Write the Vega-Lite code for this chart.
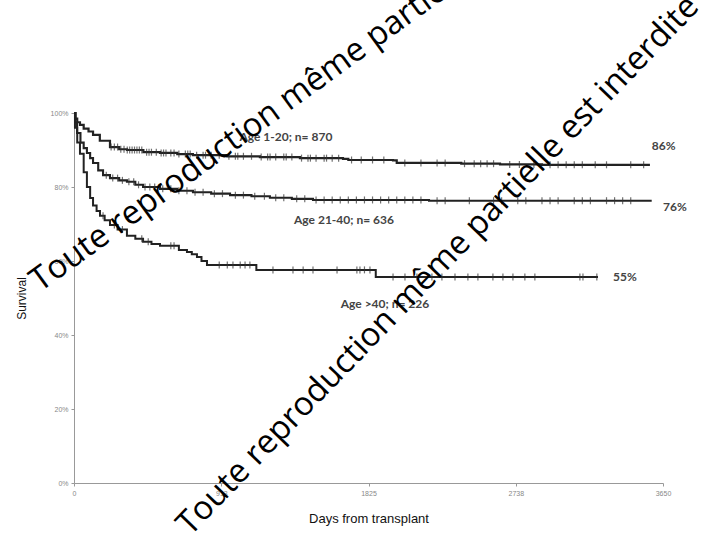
{
  "$schema": "https://vega.github.io/schema/vega-lite/v6.json",
  "width": 589,
  "height": 370,
  "autosize": "none",
  "padding": {"left": 74, "top": 113, "right": 38, "bottom": 52},
  "background": "white",
  "config": {"view": {"stroke": null}},
  "datasets": {
    "curves": [
      {"g": "1-20", "day": 0, "s": 100}, {"g": "1-20", "day": 10, "s": 98.5}, {"g": "1-20", "day": 20, "s": 97.5}, {"g": "1-20", "day": 37, "s": 96.8}, {"g": "1-20", "day": 60, "s": 95.8}, {"g": "1-20", "day": 90, "s": 95.0}, {"g": "1-20", "day": 118, "s": 94.1}, {"g": "1-20", "day": 160, "s": 92.5}, {"g": "1-20", "day": 223, "s": 90.8}, {"g": "1-20", "day": 280, "s": 90.2}, {"g": "1-20", "day": 329, "s": 90.0}, {"g": "1-20", "day": 430, "s": 89.4}, {"g": "1-20", "day": 533, "s": 89.2}, {"g": "1-20", "day": 640, "s": 88.9}, {"g": "1-20", "day": 737, "s": 88.6}, {"g": "1-20", "day": 950, "s": 88.3}, {"g": "1-20", "day": 1152, "s": 88.1}, {"g": "1-20", "day": 1400, "s": 87.8}, {"g": "1-20", "day": 1667, "s": 87.6}, {"g": "1-20", "day": 1700, "s": 87.3}, {"g": "1-20", "day": 1977, "s": 87.2}, {"g": "1-20", "day": 2000, "s": 86.5}, {"g": "1-20", "day": 2400, "s": 86.3}, {"g": "1-20", "day": 2640, "s": 86.1}, {"g": "1-20", "day": 2900, "s": 86.0}, {"g": "1-20", "day": 3569, "s": 86.0},
      {"g": "21-40", "day": 0, "s": 100}, {"g": "21-40", "day": 8, "s": 97.5}, {"g": "21-40", "day": 19, "s": 94.6}, {"g": "21-40", "day": 40, "s": 92.0}, {"g": "21-40", "day": 60, "s": 90.5}, {"g": "21-40", "day": 80, "s": 89.2}, {"g": "21-40", "day": 100, "s": 87.8}, {"g": "21-40", "day": 118, "s": 86.5}, {"g": "21-40", "day": 150, "s": 84.5}, {"g": "21-40", "day": 180, "s": 83.2}, {"g": "21-40", "day": 223, "s": 82.4}, {"g": "21-40", "day": 280, "s": 81.8}, {"g": "21-40", "day": 328, "s": 81.4}, {"g": "21-40", "day": 380, "s": 80.6}, {"g": "21-40", "day": 428, "s": 80.0}, {"g": "21-40", "day": 533, "s": 79.5}, {"g": "21-40", "day": 640, "s": 79.0}, {"g": "21-40", "day": 737, "s": 78.6}, {"g": "21-40", "day": 850, "s": 78.2}, {"g": "21-40", "day": 967, "s": 77.8}, {"g": "21-40", "day": 1100, "s": 77.5}, {"g": "21-40", "day": 1214, "s": 77.1}, {"g": "21-40", "day": 1350, "s": 76.8}, {"g": "21-40", "day": 1481, "s": 76.5}, {"g": "21-40", "day": 2200, "s": 76.3}, {"g": "21-40", "day": 3580, "s": 76.3},
      {"g": ">40", "day": 0, "s": 100}, {"g": ">40", "day": 6, "s": 96}, {"g": ">40", "day": 20, "s": 92}, {"g": ">40", "day": 37, "s": 89}, {"g": ">40", "day": 60, "s": 84}, {"g": ">40", "day": 80, "s": 80}, {"g": ">40", "day": 100, "s": 77}, {"g": ">40", "day": 118, "s": 75}, {"g": ">40", "day": 140, "s": 73.5}, {"g": ">40", "day": 161, "s": 72.2}, {"g": ">40", "day": 190, "s": 71.0}, {"g": ">40", "day": 223, "s": 69.7}, {"g": ">40", "day": 270, "s": 68.5}, {"g": ">40", "day": 328, "s": 66.8}, {"g": ">40", "day": 380, "s": 66.0}, {"g": ">40", "day": 428, "s": 65.2}, {"g": ">40", "day": 480, "s": 64.6}, {"g": ">40", "day": 533, "s": 64.1}, {"g": ">40", "day": 650, "s": 63.0}, {"g": ">40", "day": 700, "s": 62.4}, {"g": ">40", "day": 730, "s": 61.8}, {"g": ">40", "day": 762, "s": 61.1}, {"g": ">40", "day": 790, "s": 60.0}, {"g": ">40", "day": 824, "s": 58.9}, {"g": ">40", "day": 1130, "s": 57.6}, {"g": ">40", "day": 1870, "s": 55.7}, {"g": ">40", "day": 3247, "s": 55.7}
    ],
    "censor": [
      {"g": "1-20", "day": 230, "s": 90.8}, {"g": "1-20", "day": 250, "s": 90.8}, {"g": "1-20", "day": 270, "s": 90.8}, {"g": "1-20", "day": 290, "s": 90.2}, {"g": "1-20", "day": 310, "s": 90.2}, {"g": "1-20", "day": 330, "s": 90.0}, {"g": "1-20", "day": 345, "s": 90.0}, {"g": "1-20", "day": 360, "s": 90.0}, {"g": "1-20", "day": 375, "s": 90.0}, {"g": "1-20", "day": 390, "s": 90.0}, {"g": "1-20", "day": 405, "s": 90.0}, {"g": "1-20", "day": 420, "s": 90.0}, {"g": "1-20", "day": 450, "s": 89.4}, {"g": "1-20", "day": 465, "s": 89.4}, {"g": "1-20", "day": 480, "s": 89.4}, {"g": "1-20", "day": 510, "s": 89.4}, {"g": "1-20", "day": 540, "s": 89.2}, {"g": "1-20", "day": 555, "s": 89.2}, {"g": "1-20", "day": 570, "s": 89.2}, {"g": "1-20", "day": 600, "s": 89.2}, {"g": "1-20", "day": 620, "s": 89.2}, {"g": "1-20", "day": 650, "s": 88.9}, {"g": "1-20", "day": 690, "s": 88.9}, {"g": "1-20", "day": 705, "s": 88.9}, {"g": "1-20", "day": 720, "s": 88.9}, {"g": "1-20", "day": 760, "s": 88.6}, {"g": "1-20", "day": 800, "s": 88.6}, {"g": "1-20", "day": 815, "s": 88.6}, {"g": "1-20", "day": 850, "s": 88.6}, {"g": "1-20", "day": 900, "s": 88.6}, {"g": "1-20", "day": 960, "s": 88.3}, {"g": "1-20", "day": 1000, "s": 88.3}, {"g": "1-20", "day": 1015, "s": 88.3}, {"g": "1-20", "day": 1050, "s": 88.3}, {"g": "1-20", "day": 1100, "s": 88.3}, {"g": "1-20", "day": 1160, "s": 88.1}, {"g": "1-20", "day": 1200, "s": 88.1}, {"g": "1-20", "day": 1215, "s": 88.1}, {"g": "1-20", "day": 1250, "s": 88.1}, {"g": "1-20", "day": 1300, "s": 88.1}, {"g": "1-20", "day": 1315, "s": 88.1}, {"g": "1-20", "day": 1350, "s": 88.1}, {"g": "1-20", "day": 1410, "s": 87.8}, {"g": "1-20", "day": 1450, "s": 87.8}, {"g": "1-20", "day": 1465, "s": 87.8}, {"g": "1-20", "day": 1500, "s": 87.8}, {"g": "1-20", "day": 1550, "s": 87.8}, {"g": "1-20", "day": 1565, "s": 87.8}, {"g": "1-20", "day": 1600, "s": 87.8}, {"g": "1-20", "day": 1640, "s": 87.8}, {"g": "1-20", "day": 1720, "s": 87.3}, {"g": "1-20", "day": 1780, "s": 87.3}, {"g": "1-20", "day": 1850, "s": 87.3}, {"g": "1-20", "day": 1920, "s": 87.3}, {"g": "1-20", "day": 2050, "s": 86.5}, {"g": "1-20", "day": 2150, "s": 86.5}, {"g": "1-20", "day": 2250, "s": 86.5}, {"g": "1-20", "day": 2300, "s": 86.5}, {"g": "1-20", "day": 2420, "s": 86.3}, {"g": "1-20", "day": 2480, "s": 86.3}, {"g": "1-20", "day": 2520, "s": 86.3}, {"g": "1-20", "day": 2560, "s": 86.3}, {"g": "1-20", "day": 2600, "s": 86.3}, {"g": "1-20", "day": 2700, "s": 86.1}, {"g": "1-20", "day": 2760, "s": 86.1}, {"g": "1-20", "day": 2850, "s": 86.1}, {"g": "1-20", "day": 2950, "s": 86.0}, {"g": "1-20", "day": 3000, "s": 86.0}, {"g": "1-20", "day": 3050, "s": 86.0}, {"g": "1-20", "day": 3100, "s": 86.0}, {"g": "1-20", "day": 3150, "s": 86.0}, {"g": "1-20", "day": 3230, "s": 86.0}, {"g": "1-20", "day": 3300, "s": 86.0}, {"g": "1-20", "day": 3450, "s": 86.0}, {"g": "1-20", "day": 3530, "s": 86.0},
      {"g": "21-40", "day": 200, "s": 83.2}, {"g": "21-40", "day": 240, "s": 82.4}, {"g": "21-40", "day": 270, "s": 82.4}, {"g": "21-40", "day": 300, "s": 81.8}, {"g": "21-40", "day": 340, "s": 81.4}, {"g": "21-40", "day": 370, "s": 81.4}, {"g": "21-40", "day": 400, "s": 80.6}, {"g": "21-40", "day": 440, "s": 80.0}, {"g": "21-40", "day": 470, "s": 80.0}, {"g": "21-40", "day": 500, "s": 80.0}, {"g": "21-40", "day": 550, "s": 79.5}, {"g": "21-40", "day": 600, "s": 79.5}, {"g": "21-40", "day": 650, "s": 79.0}, {"g": "21-40", "day": 700, "s": 79.0}, {"g": "21-40", "day": 750, "s": 78.6}, {"g": "21-40", "day": 800, "s": 78.6}, {"g": "21-40", "day": 870, "s": 78.2}, {"g": "21-40", "day": 920, "s": 78.2}, {"g": "21-40", "day": 1000, "s": 77.8}, {"g": "21-40", "day": 1050, "s": 77.8}, {"g": "21-40", "day": 1120, "s": 77.5}, {"g": "21-40", "day": 1180, "s": 77.5}, {"g": "21-40", "day": 1250, "s": 77.1}, {"g": "21-40", "day": 1300, "s": 77.1}, {"g": "21-40", "day": 1380, "s": 76.8}, {"g": "21-40", "day": 1430, "s": 76.8}, {"g": "21-40", "day": 1500, "s": 76.5}, {"g": "21-40", "day": 1550, "s": 76.5}, {"g": "21-40", "day": 1600, "s": 76.5}, {"g": "21-40", "day": 1650, "s": 76.5}, {"g": "21-40", "day": 1700, "s": 76.5}, {"g": "21-40", "day": 1750, "s": 76.5}, {"g": "21-40", "day": 1800, "s": 76.5}, {"g": "21-40", "day": 1850, "s": 76.5}, {"g": "21-40", "day": 1900, "s": 76.5}, {"g": "21-40", "day": 1950, "s": 76.5}, {"g": "21-40", "day": 2000, "s": 76.5}, {"g": "21-40", "day": 2050, "s": 76.5}, {"g": "21-40", "day": 2100, "s": 76.5}, {"g": "21-40", "day": 2150, "s": 76.5}, {"g": "21-40", "day": 2250, "s": 76.3}, {"g": "21-40", "day": 2300, "s": 76.3}, {"g": "21-40", "day": 2450, "s": 76.3}, {"g": "21-40", "day": 2600, "s": 76.3}, {"g": "21-40", "day": 2650, "s": 76.3}, {"g": "21-40", "day": 2750, "s": 76.3}, {"g": "21-40", "day": 2800, "s": 76.3}, {"g": "21-40", "day": 2900, "s": 76.3}, {"g": "21-40", "day": 2950, "s": 76.3}, {"g": "21-40", "day": 3000, "s": 76.3}, {"g": "21-40", "day": 3100, "s": 76.3}, {"g": "21-40", "day": 3150, "s": 76.3}, {"g": "21-40", "day": 3200, "s": 76.3}, {"g": "21-40", "day": 3300, "s": 76.3}, {"g": "21-40", "day": 3350, "s": 76.3}, {"g": "21-40", "day": 3400, "s": 76.3}, {"g": "21-40", "day": 3450, "s": 76.3},
      {"g": ">40", "day": 180, "s": 72.2}, {"g": ">40", "day": 250, "s": 69.7}, {"g": ">40", "day": 300, "s": 68.5}, {"g": ">40", "day": 420, "s": 66.0}, {"g": ">40", "day": 460, "s": 65.2}, {"g": ">40", "day": 600, "s": 64.1}, {"g": ">40", "day": 620, "s": 64.1}, {"g": ">40", "day": 900, "s": 58.9}, {"g": ">40", "day": 950, "s": 58.9}, {"g": ">40", "day": 985, "s": 58.9}, {"g": ">40", "day": 1030, "s": 58.9}, {"g": ">40", "day": 1060, "s": 58.9}, {"g": ">40", "day": 1090, "s": 58.9}, {"g": ">40", "day": 1233, "s": 57.6}, {"g": ">40", "day": 1357, "s": 57.6}, {"g": ">40", "day": 1420, "s": 57.6}, {"g": ">40", "day": 1481, "s": 57.6}, {"g": ">40", "day": 1630, "s": 57.6}, {"g": ">40", "day": 1753, "s": 57.6}, {"g": ">40", "day": 1772, "s": 57.6}, {"g": ">40", "day": 1800, "s": 57.6}, {"g": ">40", "day": 1834, "s": 57.6}, {"g": ">40", "day": 1977, "s": 55.7}, {"g": ">40", "day": 2051, "s": 55.7}, {"g": ">40", "day": 2125, "s": 55.7}, {"g": ">40", "day": 2218, "s": 55.7}, {"g": ">40", "day": 2280, "s": 55.7}, {"g": ">40", "day": 2361, "s": 55.7}, {"g": ">40", "day": 2441, "s": 55.7}, {"g": ">40", "day": 2503, "s": 55.7}, {"g": ">40", "day": 2596, "s": 55.7}, {"g": ">40", "day": 2658, "s": 55.7}, {"g": ">40", "day": 2720, "s": 55.7}, {"g": ">40", "day": 2794, "s": 55.7}, {"g": ">40", "day": 2856, "s": 55.7}, {"g": ">40", "day": 3135, "s": 55.7}, {"g": ">40", "day": 3154, "s": 55.7}, {"g": ">40", "day": 3240, "s": 55.7}
    ],
    "labels": [
      {"t": "Age 1-20; n= 870", "day": 1313, "s": 93.5},
      {"t": "Age 21-40; n= 636", "day": 1673, "s": 71.2},
      {"t": "Age >40; n= 226", "day": 1927, "s": 48.5}
    ],
    "ends": [
      {"t": "86%", "day": 3581, "s": 91.2},
      {"t": "76%", "day": 3650, "s": 74.6},
      {"t": "55%", "day": 3340, "s": 55.7}
    ],
    "marks": [
      {"t": "Toute reproduction même partielle est interdite", "day": -210, "s": 51.5, "w": "a"},
      {"t": "Toute reproduction même partielle est interdite", "day": 720, "s": -14.5, "w": "b"}
    ]
  },
  "layer": [
    {
      "data": {"name": "curves"},
      "mark": {"type": "line", "interpolate": "step-after", "color": "#222"},
      "encoding": {
        "x": {"field": "day", "type": "quantitative", "scale": {"domain": [0, 3650], "nice": false},
          "axis": {"values": [0, 913, 1825, 2738, 3650], "format": "d", "grid": false, "title": "Days from transplant", "titleFont": "Liberation Sans", "titleFontSize": 13, "titleFontWeight": "normal", "titleColor": "#111", "titlePadding": 16, "labelFont": "Liberation Sans", "labelFontSize": 7, "labelColor": "#888", "labelPadding": 3, "domainColor": "#999", "tickColor": "#999", "tickSize": 3, "labelFlush": false, "labelOverlap": false}},
        "y": {"field": "s", "type": "quantitative", "scale": {"domain": [0, 100], "nice": false},
          "axis": {"values": [0, 20, 40, 60, 80, 100], "labelExpr": "datum.value + '%'", "grid": false, "title": "Survival", "titleFont": "Liberation Sans", "titleFontSize": 12, "titleFontWeight": "normal", "titleColor": "#111", "titlePadding": 22, "labelFont": "Liberation Sans", "labelFontSize": 7, "labelColor": "#888", "labelPadding": 3, "domainColor": "#999", "tickColor": "#999", "tickSize": 3}},
        "detail": {"field": "g"},
        "strokeWidth": {"field": "g", "type": "nominal", "scale": {"domain": ["1-20", "21-40", ">40"], "range": [2.2, 2.0, 1.2]}, "legend": null}
      }
    },
    {
      "data": {"name": "censor"},
      "mark": {"type": "tick", "orient": "vertical", "size": 7, "thickness": 1.2, "color": "#333"},
      "encoding": {
        "x": {"field": "day", "type": "quantitative"},
        "y": {"field": "s", "type": "quantitative"}
      }
    },
    {
      "data": {"name": "labels"},
      "mark": {"type": "text", "font": "Lato", "fontSize": 12, "fontWeight": "bold", "color": "#444"},
      "encoding": {
        "x": {"field": "day", "type": "quantitative"},
        "y": {"field": "s", "type": "quantitative"},
        "text": {"field": "t"}
      }
    },
    {
      "data": {"name": "ends"},
      "mark": {"type": "text", "font": "Lato", "fontSize": 12, "fontWeight": "bold", "color": "#444", "align": "left"},
      "encoding": {
        "x": {"field": "day", "type": "quantitative"},
        "y": {"field": "s", "type": "quantitative"},
        "text": {"field": "t"}
      }
    },
    {
      "data": {"name": "marks"},
      "transform": [{"filter": "datum.w == 'a'"}],
      "mark": {"type": "text", "font": "Open Sans", "fontSize": 33, "color": "#000", "align": "left", "baseline": "alphabetic", "angle": 324},
      "encoding": {
        "x": {"field": "day", "type": "quantitative"},
        "y": {"field": "s", "type": "quantitative"},
        "text": {"field": "t"}
      }
    },
    {
      "data": {"name": "marks"},
      "transform": [{"filter": "datum.w == 'b'"}],
      "mark": {"type": "text", "font": "Open Sans", "fontSize": 33, "color": "#000", "align": "left", "baseline": "alphabetic", "angle": 314},
      "encoding": {
        "x": {"field": "day", "type": "quantitative"},
        "y": {"field": "s", "type": "quantitative"},
        "text": {"field": "t"}
      }
    }
  ]
}
